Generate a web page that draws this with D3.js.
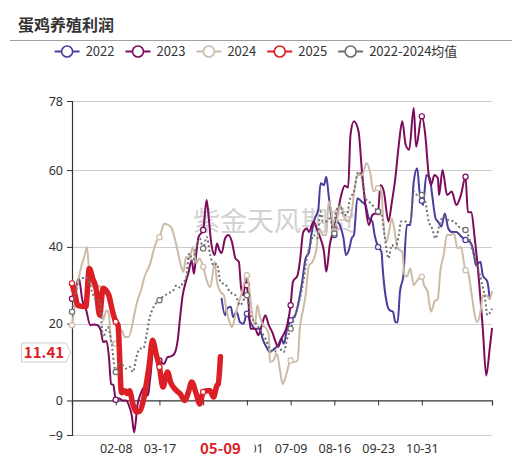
<!DOCTYPE html>
<html><head><meta charset="utf-8">
<script src="https://cdn.jsdelivr.net/npm/d3@7"></script>
<style>
html,body{margin:0;padding:0;background:#fff;}
svg{display:block;font-family:"Noto Sans CJK SC","Noto Sans",sans-serif;}
</style></head>
<body>
<svg id="chart" width="522" height="460"></svg>
<script>
// ---------- data ----------
const seriesNames = ["2022","2023","2024","2025","2022-2024均值"];
const seriesColors = ["#4a3d9c","#7c0b5c","#cbbba7","#dc1e25","#6f6f6f"];
const tickDays = [38,76,114,152,190,228,266,304];
const tickLabels = ["02-08","03-17","04-24","06-01","07-09","08-16","09-23","10-31"];
const yTicks = [78,60,40,20,0,-9];
const markerDays = [0,38,76,114,152,190,228,266,304,342];
const lastLabelDate = "05-09";
const lastLabelValue = 11.41;

const days2022 = [130,133,135,138,140,143,146,149,152,155,159,163,166,169,172,176,179,182,184,187,190,194,197,200,203,206,208,211,214,216,219,221,223,226,228,230,233,236,238,241,243,245,248,252,255,258,261,263,266,269,270,274,276,279,281,283,285,288,291,294,297,300,302,304,305,308,311,313,316,318,321,324,327,330,334,337,342,346,349,351,355,357,361,363];
const vals2022 = [26.5,22.2,24,24.4,21.7,23.1,20.4,20,22.6,20.4,18.7,18.7,15.7,13.9,12.6,13.5,14.3,16.1,14.8,18.7,20.9,22.2,25.7,30.9,37,38.7,43.1,47.4,49.6,56.6,56.1,58.3,53.5,46.6,43.1,46.6,45.5,42.2,37.9,39.6,42.2,43.1,52.7,51.7,50.9,47.4,46.6,43.1,40,38.7,34.4,24.8,23.5,23.1,20.4,20.4,28.3,32.6,45.7,45.7,57,60.5,54.4,52,50.9,58.7,57.9,53.5,47.4,46.6,45.3,48.7,44.8,43.9,43.9,43.1,41.8,41.3,38.7,35.2,36.1,32.6,30.9,26.5];

const days2023 = [0,3,6,9,12,16,19,22,25,27,30,32,34,36,38,41,44,47,49,52,54,57,60,63,66,68,71,73,76,80,83,86,89,92,94,96,99,101,104,106,108,110,114,117,119,121,124,126,128,130,133,136,139,142,145,147,149,151,152,153,155,159,162,165,168,171,174,177,179,182,187,190,192,196,198,201,204,206,210,213,216,219,221,224,228,230,234,237,240,242,245,249,252,255,258,261,266,268,271,275,278,281,284,287,290,293,297,299,304,307,310,312,315,318,319,322,326,330,334,338,342,344,347,350,353,357,360,363,365];
const vals2023 = [26.5,29,31.8,26.1,23.9,19.6,19.8,19.6,18.3,15.2,15.5,11.7,4.3,4,0.2,0.5,0,0,-0.9,-4,-8.3,-1,2,3.5,1.3,5.9,13.9,12,10.4,9.5,11.3,11.5,12.2,16,21.8,27,31,33,36.5,33,38.3,42.6,44.4,52.2,47,41,37.9,40.9,39.2,38.4,42.2,43.1,41.3,37,36.1,29.2,27.4,32.2,30,27.4,18.7,18.7,17,19.6,22.2,19.6,17.8,15.2,13.9,16.1,19.6,24.8,30.9,32.6,36.1,43.9,44.8,43.9,46.6,44.5,42.2,38.7,33.5,40.5,45,47.4,53.5,55.9,55.5,69.2,72.7,70.1,59.6,50.9,45.7,48.3,49.1,56.1,54.4,46.6,51.7,57.9,66.6,72.7,66.6,65.3,76.2,66.1,74,69.2,58.7,56.1,58.7,57.9,53.5,60,53.5,54.4,50.9,53.5,58.3,49.1,49,42.2,33.5,18.7,6.5,13.5,18.7];

const days2024 = [0,2,5,8,11,13,15,18,21,23,25,27,30,32,34,38,40,43,46,49,52,54,57,60,63,68,71,74,76,78,80,83,86,89,92,95,97,99,102,105,108,111,114,117,120,123,124,126,129,132,134,137,139,142,145,147,150,152,154,156,159,161,163,166,169,171,172,175,178,181,183,186,190,193,196,198,201,203,206,209,212,215,218,221,223,225,228,230,233,236,239,241,243,246,248,252,256,259,262,266,269,270,273,275,278,280,283,287,289,291,294,297,300,304,306,309,312,315,318,320,323,326,329,332,335,338,342,344,347,350,352,355,357,360,363,365];
const vals2024 = [19.6,23.5,30.5,34.8,37.8,40,33.1,29.6,30,29.8,29.6,20.9,23.5,22.7,15.2,14.8,16,18.3,16.5,16.5,19.1,22.2,26.1,28.7,32.2,35.7,39.2,41.8,42.5,44.4,46,45.8,45.2,42.6,38.7,34.8,33.5,37.4,37,40,35.7,37,34.8,31.3,29.5,34.4,36.1,30.9,28.3,27.4,23.9,20.4,19.1,22.2,25.7,27.4,30.9,32.6,29.2,23.9,19.6,24.8,22.2,19.6,18.7,17,10,10.4,12.2,7.4,4.3,6.5,10.4,10,10.4,18.7,23.9,27.4,35.2,36.1,38.7,44.8,43.1,43.1,51.8,50.1,44,46.6,50.9,48.3,46.6,47,49,56,58.7,58.7,61.8,59.6,54.4,55.3,54.5,49.1,41.3,43.1,47.4,44.8,39.6,38.7,32.6,32.3,34.4,30,31.3,32.2,30,28.3,23.1,25.7,26.5,33.5,37.9,43.1,43.1,43.5,39.6,40,33.9,33.5,28.3,22.2,20.4,23.1,27.4,27.4,26.5,28.3];

const days2025 = [0,3,5,9,12,15,18,21,24,27,30,32,35,38,40,43,46,48,50,53,56,59,62,64,67,70,73,76,79,83,86,88,91,94,98,101,104,108,111,114,117,120,123,126,127,129];
const vals2025 = [30.5,27,24.8,24.5,24.4,34.4,31.8,29,22.2,29.2,28.5,27.4,23.5,20.5,19.6,2,2.5,1.8,2.5,-1,-3,-2.8,0,3.2,9,15.7,12.2,8.7,3.5,7.4,4.5,3.5,2.5,1.7,0,2,4.8,1.7,-0.9,2.2,2.5,2.5,0.9,3.9,4.2,11.41];

const daysAvg = [0,4,8,13,17,21,24,27,31,34,38,41,44,47,50,53,56,59,62,65,67,71,76,79,83,88,91,94,96,99,102,105,108,111,114,117,120,123,126,129,134,137,142,146,152,155,159,163,168,172,176,179,184,187,190,194,198,201,204,207,210,213,216,218,221,224,228,229,233,236,239,241,245,249,252,255,258,261,266,269,272,275,278,281,284,286,291,294,297,300,304,307,310,313,316,320,323,327,332,336,342,346,349,352,356,359,361,365];
const valsAvg = [23.1,29.6,31.8,32,28.7,26.1,26,16.5,19.1,15.7,7.4,9.6,9.2,8.3,8.8,7.4,11.3,13.5,13.6,17.4,20.9,24.4,26.1,27,27.8,28.7,30,29.4,30.5,31.8,38.3,36.1,40,42.2,39.6,42.6,38,35.2,35.6,30.9,30,28.3,27.4,24.8,27.4,22.2,20.4,18.7,16.1,13.5,12.6,13.9,12.6,16.1,18.7,22.2,26.5,30.9,37,40.5,43.1,42.2,49.2,46.6,46.6,47.4,43.5,48.3,50.9,48.3,48.3,51.7,54.5,59.6,57.9,52.6,51.8,50.9,49.2,48.3,42.2,37,40.5,39.6,43.1,46.6,46.6,46.3,54.4,53.5,53.5,51.8,46.6,44.8,42.2,46.6,47.9,47,46.6,45.3,44.4,41.3,37.9,35.2,30.9,26.5,22.2,23.9];

// ---------- layout ----------
const svg = d3.select("#chart");
const x = d3.scaleLinear().domain([0,365]).range([72,492]);
const y = d3.scaleLinear().domain([-9,78]).range([435,101]);
const lastDay = days2025[days2025.length-1];

// title
svg.append("text").attr("x",18).attr("y",31)
  .attr("font-size",16).attr("font-weight",700).attr("fill","#333")
  .text("蛋鸡养殖利润");
svg.append("line").attr("x1",10).attr("x2",512).attr("y1",40.5).attr("y2",40.5)
  .attr("stroke","#a0a0a0").attr("stroke-width",1.2);

// legend
const legend = svg.append("g");
const items = [];
seriesNames.forEach((n,i)=>{
  const g = legend.append("g");
  g.append("line").attr("x1",0).attr("x2",25).attr("y1",0).attr("y2",0)
    .attr("stroke",seriesColors[i]).attr("stroke-width",2);
  g.append("circle").attr("cx",12.5).attr("cy",0).attr("r",5.5)
    .attr("fill","#fff").attr("stroke",seriesColors[i]).attr("stroke-width",1.6);
  const t = g.append("text").attr("x",31).attr("y",4.5).attr("font-size",13)
    .attr("fill","#333").text(n);
  const w = 31 + t.node().getComputedTextLength();
  items.push({g,w});
});
const gap = 11;
const totalW = d3.sum(items,d=>d.w) + gap*(items.length-1);
let cx = 256 - totalW/2;
items.forEach(it=>{ it.g.attr("transform",`translate(${cx},51.5)`); cx += it.w + gap; });

// watermark
svg.append("text").attr("x",193).attr("y",231).attr("font-size",27)
  .attr("fill","#d2d2d2").text("紫金天风期货");

// gridlines
svg.append("g").selectAll("line").data(yTicks.filter(v=>v!==0)).join("line")
  .attr("x1",72).attr("x2",492).attr("y1",d=>Math.round(y(d))+0.5).attr("y2",d=>Math.round(y(d))+0.5)
  .attr("stroke","#cccccc").attr("stroke-width",1);

// y axis
const yAxis = svg.append("g").attr("transform","translate(72,0)")
  .call(d3.axisLeft(y).tickValues(yTicks).tickSize(5).tickPadding(4).tickFormat(d3.format("d")));
yAxis.select(".domain").attr("stroke","#333").attr("stroke-width",1.2);
yAxis.selectAll(".tick line").attr("stroke","#333");
yAxis.selectAll(".tick text").attr("font-size",12.5).attr("fill","#333").attr("font-family","Noto Sans, sans-serif");

// x axis line on zero
const xAxis = svg.append("g").attr("transform",`translate(0,${y(0)})`)
  .call(d3.axisBottom(x).tickValues(tickDays).tickSize(5).tickFormat(""));
xAxis.select(".domain").attr("stroke","#333").attr("stroke-width",1.2);
xAxis.selectAll(".tick line").attr("stroke","#333");

// x labels at bottom (the label fully under the pointer label is hidden, as in the original)
const xLab = svg.append("g").attr("transform",`translate(0,${y(-9)})`)
  .call(d3.axisBottom(x).tickValues(tickDays).tickSize(0).tickPadding(9)
    .tickFormat((d,i)=> Math.abs(x(d)-x(lastDay))<25 ? "" : tickLabels[i]));
xLab.select(".domain").remove();
xLab.selectAll(".tick text").attr("font-size",12.5).attr("fill","#333").attr("font-family","Noto Sans, sans-serif");

// series
const all = [
  {days:days2022, vals:vals2022, w:2},
  {days:days2023, vals:vals2023, w:2},
  {days:days2024, vals:vals2024, w:2},
  {days:days2025, vals:vals2025, w:5.5},
  {days:daysAvg, vals:valsAvg, w:2, dash:"2,2.5"}
];
const line = d3.line().x(d=>x(d[0])).y(d=>y(d[1])).curve(d3.curveMonotoneX);
all.forEach((s,i)=>{
  const pts = s.days.map((d,j)=>[d,s.vals[j]]);
  const p = svg.append("path").datum(pts).attr("d",line)
    .attr("fill","none").attr("stroke",seriesColors[i]).attr("stroke-width",s.w)
    .attr("stroke-linejoin","round").attr("stroke-linecap","round");
  if(s.dash) p.attr("stroke-dasharray",s.dash).attr("stroke-linecap","butt");
  svg.append("g").selectAll("circle").data(pts.filter(d=>markerDays.includes(d[0]))).join("circle")
    .attr("cx",d=>x(d[0])).attr("cy",d=>y(d[1])).attr("r",2.6)
    .attr("fill","#fff").attr("stroke",seriesColors[i]).attr("stroke-width",1.2);
});

// axis pointer labels
const lx0 = x(lastDay);
svg.append("rect").attr("x",lx0-32).attr("y",438).attr("width",66).attr("height",22).attr("fill","#fff");
svg.append("text").attr("x",lx0).attr("y",454).attr("text-anchor","middle")
  .attr("font-size",15).attr("font-weight",700).attr("fill","#dc1e25").text(lastLabelDate);

const yy = 352.5;
svg.append("path")
  .attr("d",`M21.5,${yy-9.5} H66 L70.5,${yy} L66,${yy+9.5} H21.5 Z`)
  .attr("fill","#fff").attr("stroke","#cfcfcf").attr("stroke-width",1);
svg.append("text").attr("x",44).attr("y",yy+5.5).attr("text-anchor","middle")
  .attr("font-size",15).attr("font-weight",700).attr("fill","#dc1e25").text(lastLabelValue.toFixed(2));
</script>
</body></html>
